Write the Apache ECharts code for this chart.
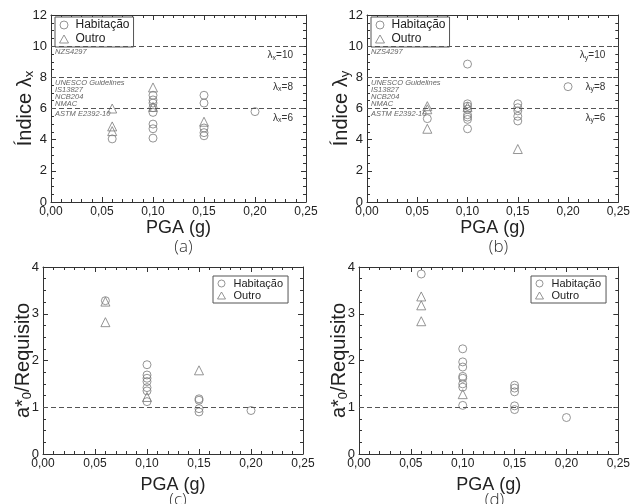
<!DOCTYPE html>
<html>
<head>
<meta charset="utf-8">
<script src="https://cdn.jsdelivr.net/npm/echarts@6/dist/echarts.min.js"></script>
<style>
  html, body { margin: 0; padding: 0; background: #fff; }
  #chart { width: 633px; height: 504px; }
</style>
</head>
<body>
<div id="chart"></div>
<script>
// dados: [PGA (g), valor]
const seriesNames = ['Habitação', 'Outro']

// (a) índice lambda x
const habA = [[0.06, 4.05], [0.10, 6.85], [0.10, 6.55], [0.10, 6.35], [0.10, 6.05], [0.10, 5.75],
  [0.10, 5.0], [0.10, 4.7], [0.10, 4.1], [0.15, 6.85], [0.15, 6.35], [0.15, 4.75], [0.15, 4.45],
  [0.15, 4.25], [0.20, 5.8]]
const outA = [[0.06, 6.0], [0.06, 4.85], [0.06, 4.55], [0.10, 7.35], [0.10, 6.1], [0.15, 5.15]]

// (b) índice lambda y
const habB = [[0.06, 5.35], [0.10, 8.85], [0.10, 6.3], [0.10, 6.15], [0.10, 5.95], [0.10, 5.6],
  [0.10, 5.45], [0.10, 5.3], [0.10, 4.7], [0.15, 6.3], [0.15, 6.05], [0.15, 5.85], [0.15, 5.5],
  [0.15, 5.2], [0.20, 7.4]]
const outB = [[0.06, 6.15], [0.06, 5.95], [0.06, 4.7], [0.10, 6.1], [0.15, 3.4]]

// (c) a*0/Requisito, direção x
const habC = [[0.06, 3.28], [0.10, 1.91], [0.10, 1.69], [0.10, 1.62], [0.10, 1.55], [0.10, 1.42],
  [0.10, 1.35], [0.10, 1.12], [0.15, 1.18], [0.15, 1.15], [0.15, 0.97], [0.15, 0.9], [0.20, 0.93]]
const outC = [[0.06, 3.26], [0.06, 2.82], [0.10, 1.22], [0.15, 1.79]]

// (d) a*0/Requisito, direção y
const habD = [[0.06, 3.85], [0.10, 2.25], [0.10, 1.97], [0.10, 1.86], [0.10, 1.66], [0.10, 1.62],
  [0.10, 1.5], [0.10, 1.43], [0.10, 1.04], [0.15, 1.47], [0.15, 1.41], [0.15, 1.33], [0.15, 1.03],
  [0.15, 0.95], [0.20, 0.78]]
const outD = [[0.06, 3.37], [0.06, 3.18], [0.06, 2.84], [0.10, 1.28]]

// linhas de referência
const lambdaLimits = [10, 8, 6]
const lambdaCodes = ['NZS4297', 'UNESCO Guidelines\nIS13827\nNCB204\nNMAC', 'ASTM E2392-10']
const ratioLimit = 1

const FONT = '"Liberation Sans", Arial, sans-serif'
const AXIS_COLOR = '#333'
const MARK_COLOR = '#7a7a7a'

const chart = echarts.init(document.getElementById('chart'))

const panels = [
  { grid: { left: 51, top: 15, width: 255, height: 187 }, yMax: 12, yStep: 2, hab: habA, out: outA,
    yName: 'Índice λ{s|x}', sub: 'x', tag: '(a)', legend: { left: 55, top: 17 }, lambda: true },
  { grid: { left: 367, top: 15, width: 253, height: 187 }, yMax: 12, yStep: 2, hab: habB, out: outB,
    yName: 'Índice λ{s|y}', sub: 'y', tag: '(b)', legend: { left: 371, top: 17 }, lambda: true },
  { grid: { left: 43, top: 267, width: 260, height: 187 }, yMax: 4, yStep: 1, hab: habC, out: outC,
    yName: 'a*{s|0}/Requisito', tag: '(c)', legend: { left: 213, top: 276 }, lambda: false },
  { grid: { left: 359, top: 267, width: 261, height: 187 }, yMax: 4, yStep: 1, hab: habD, out: outD,
    yName: 'a*{s|0}/Requisito', tag: '(d)', legend: { left: 531, top: 276 }, lambda: false }
]

const fmtPga = v => v.toFixed(2).replace('.', ',')

const grid = []
const xAxis = []
const yAxis = []
const series = []
const legend = []
const title = []

const tickCommon = {
  axisLine: { show: true, onZero: false, lineStyle: { color: AXIS_COLOR, width: 1 } },
  axisTick: { show: true, inside: true, length: 5, lineStyle: { color: AXIS_COLOR } },
  minorTick: { show: true, length: 3, lineStyle: { color: AXIS_COLOR } },
  splitLine: { show: false }
}

panels.forEach((p, i) => {
  grid.push(p.grid)
  const big = p.lambda
  // eixo x inferior e superior
  xAxis.push({
    type: 'value', gridIndex: i, min: 0, max: 0.25, interval: 0.05, position: 'bottom',
    ...tickCommon, minorTick: { ...tickCommon.minorTick, splitNumber: 5 },
    axisLabel: { fontFamily: FONT, fontSize: 12, color: '#222', margin: 4, formatter: fmtPga },
    name: 'PGA (g)', nameLocation: 'middle', nameGap: big ? 17 : 22, nameMoveOverlap: false,
    nameTextStyle: { fontFamily: FONT, fontSize: 18, color: '#222' }
  })
  xAxis.push({
    type: 'value', gridIndex: i, min: 0, max: 0.25, interval: 0.05, position: 'top',
    ...tickCommon, minorTick: { ...tickCommon.minorTick, splitNumber: 5 },
    axisLabel: { show: false }
  })
  // eixo y esquerdo e direito
  yAxis.push({
    type: 'value', gridIndex: i, min: 0, max: p.yMax, interval: p.yStep, position: 'left',
    ...tickCommon, minorTick: { ...tickCommon.minorTick, splitNumber: 4 },
    axisLabel: { fontFamily: FONT, fontSize: 13, color: '#222', margin: 4 },
    name: p.yName, nameLocation: 'middle', nameRotate: 90, nameGap: big ? 15 : 9,
    nameMoveOverlap: false,
    nameTextStyle: {
      fontFamily: FONT, fontSize: 20, color: '#222',
      rich: { s: { fontFamily: FONT, fontSize: 13, color: '#222', padding: [8, 0, 0, 0] } }
    }
  })
  yAxis.push({
    type: 'value', gridIndex: i, min: 0, max: p.yMax, interval: p.yStep, position: 'right',
    ...tickCommon, minorTick: { ...tickCommon.minorTick, splitNumber: 4 },
    axisLabel: { show: false }
  })

  // linhas tracejadas de referência
  const lineData = []
  if (p.lambda) {
    lambdaLimits.forEach((v, k) => {
      lineData.push({
        yAxis: v,
        label: {
          show: true, position: 'insideStartBottom', distance: [4, 2], formatter: lambdaCodes[k],
          fontFamily: FONT, fontStyle: 'italic', fontSize: 7.5, lineHeight: 7, color: '#666'
        }
      })
      lineData.push({
        yAxis: v,
        label: {
          show: true, position: 'insideEndBottom', distance: [13, 4],
          formatter: 'λ{s|' + p.sub + '}=' + v,
          fontFamily: FONT, fontSize: 10, color: '#333',
          rich: { s: { fontFamily: FONT, fontSize: 7, color: '#333', padding: [4, 0, 0, 0] } }
        }
      })
    })
  } else {
    lineData.push({ yAxis: ratioLimit, label: { show: false } })
  }

  series.push({
    name: seriesNames[0], type: 'scatter', xAxisIndex: 2 * i, yAxisIndex: 2 * i,
    data: p.hab, symbol: 'circle', symbolSize: 8,
    itemStyle: { color: 'rgba(0,0,0,0)', borderColor: MARK_COLOR, borderWidth: 1 },
    markLine: {
      silent: true, symbol: 'none', animation: false,
      lineStyle: { type: [5, 3], color: '#555', width: 1.2 },
      data: lineData
    }
  })
  series.push({
    name: seriesNames[1], type: 'scatter', xAxisIndex: 2 * i, yAxisIndex: 2 * i,
    data: p.out, symbol: 'triangle', symbolSize: 9,
    itemStyle: { color: 'rgba(0,0,0,0)', borderColor: MARK_COLOR, borderWidth: 1 }
  })

  legend.push({
    data: seriesNames, orient: 'vertical', left: p.legend.left, top: p.legend.top,
    borderColor: '#555', borderWidth: 1, backgroundColor: '#fff',
    padding: big ? [2, 4, 2, 4] : [2, 5, 2, 4], itemGap: big ? 2 : 1,
    itemWidth: big ? 9 : 8, itemHeight: big ? 8 : 7, selectedMode: false,
    itemStyle: { color: 'rgba(0,0,0,0)', borderColor: MARK_COLOR, borderWidth: 1 },
    textStyle: { fontFamily: FONT, fontSize: big ? 12 : 11, color: '#222', padding: [0, 0, 0, big ? 2 : 3] }
  })

  title.push({
    text: p.tag, left: p.grid.left + p.grid.width / 2, top: big ? 234 : 487, textAlign: 'center',
    textStyle: { fontFamily: '"Open Sans", sans-serif', fontWeight: 300, fontSize: 17, color: '#333' }
  })
})

chart.setOption({
  animation: false,
  backgroundColor: '#fff',
  title,
  grid,
  xAxis,
  yAxis,
  legend,
  series
})
</script>
</body>
</html>
